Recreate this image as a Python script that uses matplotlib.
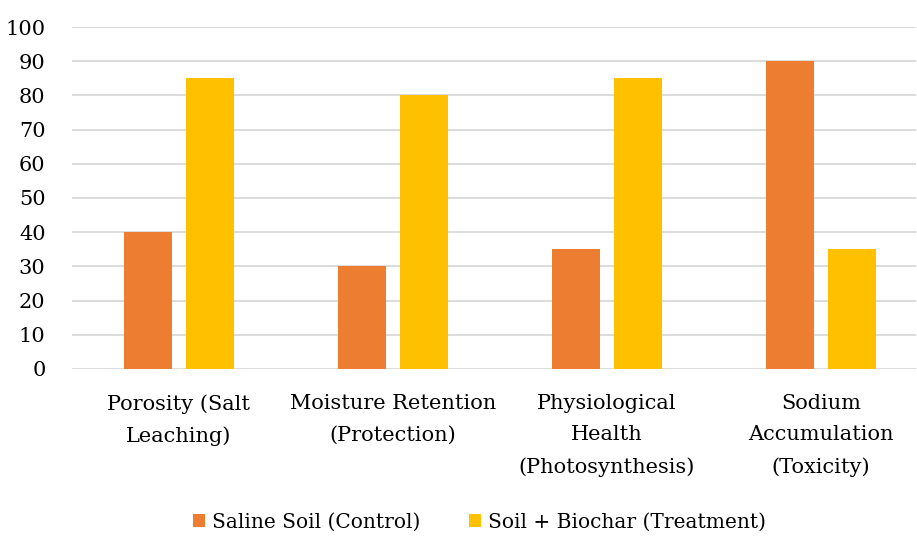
import matplotlib.pyplot as plt
import numpy as np

categories = ["Porosity (Salt\nLeaching)", "Moisture Retention\n(Protection)",
              "Physiological\nHealth\n(Photosynthesis)", "Sodium\nAccumulation\n(Toxicity)"]
control = [40, 30, 35, 90]
treatment = [85, 80, 85, 35]
yticks = [0, 10, 20, 30, 40, 50, 60, 70, 80, 90, 100]

plt.rcParams['font.family'] = ['DejaVu Serif']

fig = plt.figure(figsize=(9.17, 5.36), dpi=100)
ax = fig.add_axes([0.0785, 0.3116, 0.9205, 0.638])

x = np.arange(len(categories))
w = 0.227
off = 0.145
ax.bar(x - off, control, w, color='#ED7D31', label='Saline Soil (Control)', zorder=3)
ax.bar(x + off, treatment, w, color='#FFC000', label='Soil + Biochar (Treatment)', zorder=3)

ax.set_xlim(-0.5, 3.444)
ax.set_ylim(0, 100)
ax.set_yticks(yticks)
ax.yaxis.grid(True, color='#D9D9D9', linewidth=1.3, zorder=0)
for s in ax.spines.values():
    s.set_visible(False)
ax.tick_params(axis='both', length=0, labelsize=15)
ax.tick_params(axis='y', pad=19)
ax.tick_params(axis='x', pad=18)
ax.set_xticks(x)
ax.set_xticklabels(categories, linespacing=1.83, va='top')

ax.legend(loc='center', bbox_to_anchor=(0.483, -0.447), ncol=2, frameon=False,
          fontsize=14.5, handlelength=0.6, handleheight=0.6, handletextpad=0.35,
          columnspacing=2.4)

fig.savefig('out.png', dpi=100)
